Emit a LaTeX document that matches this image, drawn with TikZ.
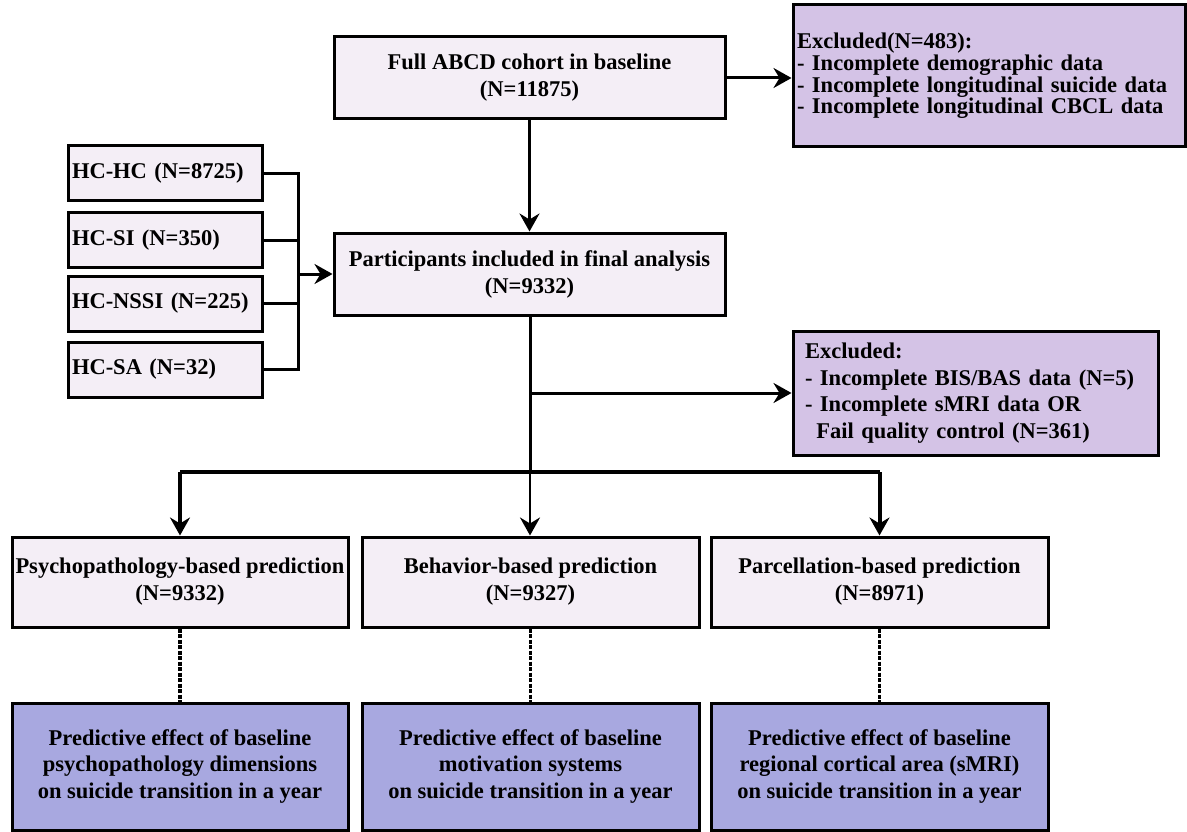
\documentclass[tikz,border=0pt]{standalone}
\usepackage{fontspec}
\setmainfont{Liberation Serif}
\usetikzlibrary{arrows.meta}
\definecolor{lightbox}{HTML}{F4EEF6}
\definecolor{exclbox}{HTML}{D4C3E6}
\definecolor{resbox}{HTML}{A8A8E0}
\tikzset{
  box/.style={draw=black, line width=3pt, fill=lightbox, align=center, inner sep=0pt,
    font=\bfseries\fontsize{22.5}{27}\selectfont},
  hcbox/.style={box, align=left, text width=186pt, inner xsep=4pt, minimum width=194pt, minimum height=55pt},
  exclbox/.style={draw=black, line width=3pt, fill=exclbox, align=left, inner ysep=0pt},
  resultbox/.style={box, fill=resbox, font=\bfseries\fontsize{22.5}{26.5}\selectfont},
  conn/.style={line width=3pt},
  arr/.style={conn, -{Stealth[length=18pt, width=20pt, inset=6pt]}},
  dotline/.style={line width=3.5pt, dash pattern=on 4pt off 1.5pt},
}
\begin{document}
\begin{tikzpicture}[x=1pt, y=-1pt]
\useasboundingbox (0,0) rectangle (1187,832);

% top row
\node[box, minimum width=391pt, minimum height=82pt] (top) at (529.5,78)
  {Full ABCD cohort in baseline\\(N=11875)};
\node[exclbox, text width=384pt, inner xsep=4pt, minimum width=392pt, minimum height=142pt,
  font=\bfseries\fontsize{22.5}{21.7}\selectfont] (excl1) at (989,76)
  {Excluded(N=483):\\- Incomplete demographic data\\- Incomplete longitudinal suicide data\\- Incomplete longitudinal CBCL data};

% participants
\node[box, minimum width=391pt, minimum height=82pt] (part) at (529.5,274)
  {Participants included in final analysis\\(N=9332)};

% HC groups
\node[hcbox] (hc1) at (165,173.5) {HC-HC (N=8725)};
\node[hcbox] (hc2) at (165,240) {HC-SI (N=350)};
\node[hcbox] (hc3) at (165,303.5) {HC-NSSI (N=225)};
\node[hcbox] (hc4) at (165,369.5) {HC-SA (N=32)};
\coordinate (bus) at (298,274);

% second exclusion
\node[exclbox, text width=341pt, inner xsep=12pt, minimum width=365pt, minimum height=124pt,
  font=\bfseries\fontsize{22.5}{26.7}\selectfont] (excl2) at (975.5,393)
  {Excluded:\\- Incomplete BIS/BAS data (N=5)\\- Incomplete sMRI data OR\\\ \,Fail quality control (N=361)};

% prediction boxes
\node[box, minimum width=336pt, minimum height=90pt] (psy) at (180,582)
  {Psychopathology-based prediction\\(N=9332)};
\node[box, minimum width=337pt, minimum height=90pt] (beh) at (530.5,582)
  {Behavior-based prediction\\(N=9327)};
\node[box, minimum width=337pt, minimum height=90pt] (par) at (879.5,582)
  {Parcellation-based prediction\\(N=8971)};

% result boxes
\node[resultbox, minimum width=336pt, minimum height=127pt] (psyres) at (180,766.5)
  {Predictive effect of baseline\\psychopathology dimensions\\on suicide transition in a year};
\node[resultbox, minimum width=337pt, minimum height=127pt] (behres) at (530.5,766.5)
  {Predictive effect of baseline\\motivation systems\\on suicide transition in a year};
\node[resultbox, minimum width=337pt, minimum height=127pt] (parres) at (879.5,766.5)
  {Predictive effect of baseline\\regional cortical area (sMRI)\\on suicide transition in a year};

\coordinate (split) at (530,472);

% connectors
\draw[arr] (top.east) -- (top.east -| excl1.west);
\draw[arr] (top.south) -- (part.north);

\draw[conn] (hc1.east) -- (hc1.east -| bus) -- (hc4.east -| bus) -- (hc4.east);
\draw[conn] (hc2.east) -- (hc2.east -| bus);
\draw[conn] (hc3.east) -- (hc3.east -| bus);
\draw[arr] (bus) -- (part.west);

\draw[conn] (part.south -| split) -- (split);
\draw[arr] (split |- excl2.west) -- (excl2.west);
\draw[arr, line width=2.5pt] (split) -- (split |- beh.north);
\draw[conn, line width=4pt] (psy.north |- split) -- (par.north |- split);
\draw[arr, line width=4pt] (psy.north |- split) -- (psy.north);
\draw[arr, line width=4pt] (par.north |- split) -- (par.north);

\draw[dotline] (psy.south) -- (psyres.north);
\draw[dotline, line width=2.5pt] (beh.south) -- (behres.north);
\draw[dotline] (par.south) -- (parres.north);
\end{tikzpicture}
\end{document}
